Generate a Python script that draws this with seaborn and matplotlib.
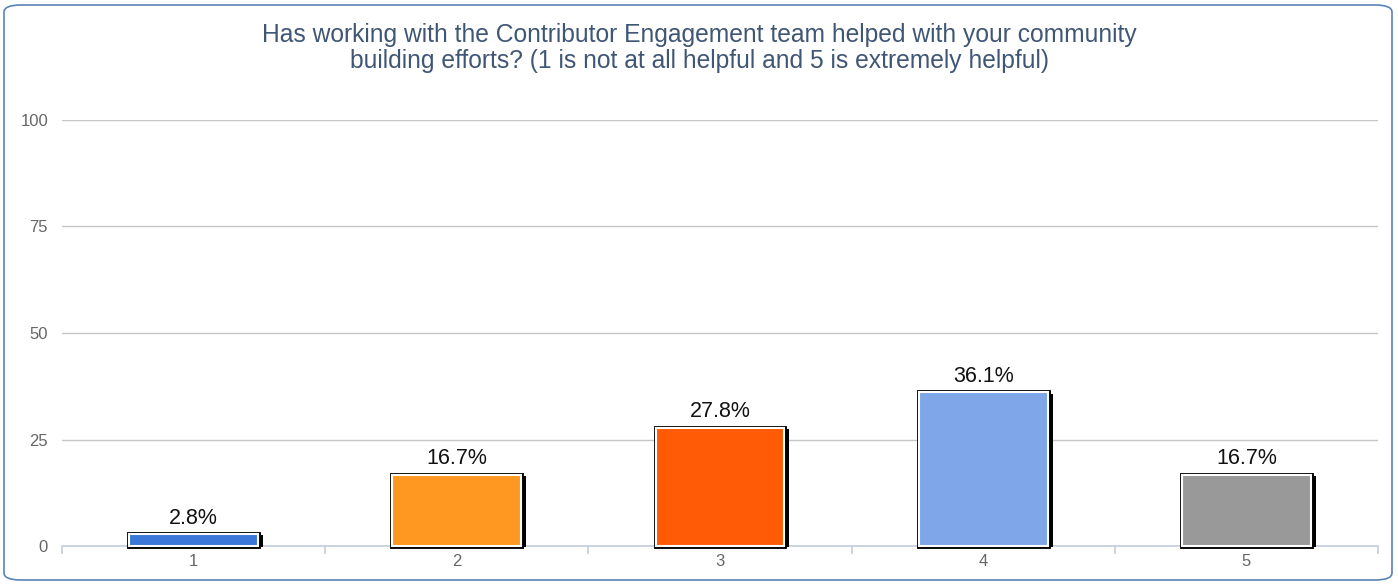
import matplotlib
matplotlib.use("Agg")
import matplotlib.pyplot as plt
import matplotlib.patheffects as pe
from matplotlib.patches import FancyBboxPatch
import seaborn as sns
import pandas as pd

categories = ["1", "2", "3", "4", "5"]
values = [2.8, 16.7, 27.8, 36.1, 16.7]
labels = ["2.8%", "16.7%", "27.8%", "36.1%", "16.7%"]
colors = ["#3a77d8", "#ff9820", "#ff5a05", "#7fa6e8", "#999999"]
yticks = [0, 25, 50, 75, 100]
title = ("Has working with the Contributor Engagement team helped with your community\n"
         "building efforts? (1 is not at all helpful and 5 is extremely helpful)")

sns.set_theme(style="white")
plt.rcParams["font.family"] = ["Liberation Sans", "DejaVu Sans"]

df = pd.DataFrame({"cat": categories, "val": values})

fig = plt.figure(figsize=(13.98, 5.84), dpi=100)
ax = fig.add_axes([62/1398, 1-546/584, (1378-62)/1398, (546-120)/584])

sns.barplot(data=df, x="cat", y="val", hue="cat", palette=colors, legend=False,
            saturation=1, width=0.49, ax=ax, edgecolor="white", linewidth=1.5, zorder=3)

for p in ax.patches:
    p.set_path_effects([
        pe.SimplePatchShadow(offset=(3.5, -1), shadow_rgbFace="black", alpha=1.0),
        pe.Stroke(linewidth=3.5, foreground="black"),
        pe.Normal(),
    ])
    p.set_clip_on(False)

for p, lab in zip(ax.patches, labels):
    ax.annotate(lab, (p.get_x() + p.get_width()/2, p.get_height()),
                xytext=(0, 4), textcoords="offset points", ha="center", va="bottom",
                fontsize=15.5, color="#111111")

ax.set_ylim(0, 100)
ax.set_xlim(-0.5, 4.5)
ax.set_yticks(yticks)
ax.set_yticklabels([str(t) for t in yticks])
ax.yaxis.grid(True, color="#c6c6c6", linewidth=1)
ax.set_axisbelow(True)
ax.set_xlabel("")
ax.set_ylabel("")
for s in ["top", "right", "left"]:
    ax.spines[s].set_visible(False)
ax.spines["bottom"].set_color("#c2cedd")
ax.spines["bottom"].set_linewidth(1.2)
ax.tick_params(axis="y", length=0, labelsize=12, labelcolor="#666666", pad=10)
ax.tick_params(axis="x", length=0, labelsize=12, labelcolor="#666666", pad=6)
ax.set_xticks([i - 0.5 for i in range(len(categories) + 1)], minor=True)
ax.tick_params(axis="x", which="minor", length=6, color="#c2cedd", width=1.2, bottom=True)

fig.text(0.5, 1-48/584, title, ha="center", va="center", fontsize=17.7,
         color="#3f5675", linespacing=1.08)

border = FancyBboxPatch((4/1398, 4/584), 1388/1398, 575/584,
                        boxstyle="round,pad=0,rounding_size=0.012",
                        transform=fig.transFigure, fill=False,
                        edgecolor="#5a84b8", linewidth=1.2)
fig.patches.append(border)

fig.savefig("out.png", dpi=100)
